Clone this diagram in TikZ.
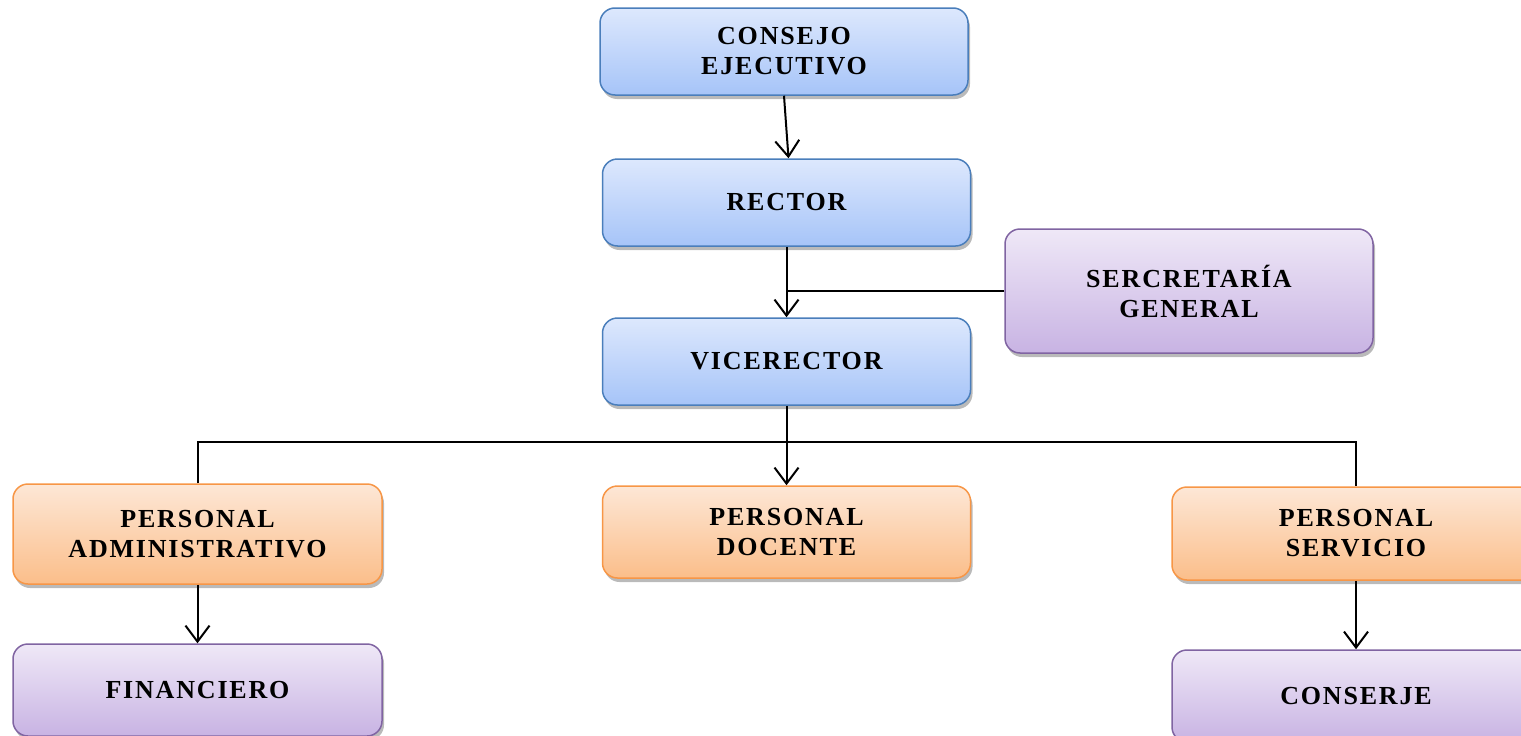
\documentclass[tikz,border=0pt]{standalone}
\usepackage{fontspec}
\setmainfont{Liberation Serif}
\usetikzlibrary{arrows.meta,shadows}
\definecolor{bluetop}{HTML}{DDE8FD}
\definecolor{bluebot}{HTML}{A6C4F8}
\definecolor{blueline}{HTML}{4A7EBB}
\definecolor{purtop}{HTML}{EFE8F7}
\definecolor{purbot}{HTML}{C8B3E3}
\definecolor{purline}{HTML}{8064A2}
\definecolor{ortop}{HTML}{FDE7D6}
\definecolor{orbot}{HTML}{FBBE8A}
\definecolor{orline}{HTML}{F79646}
\tikzset{
  box/.style={rectangle, rounded corners=15pt, line width=1.5pt, align=center,
    minimum width=368pt, minimum height=87pt, inner sep=0pt,
    font=\fontsize{26}{30}\selectfont\bfseries\addfontfeatures{LetterSpace=7},
    drop shadow={shadow xshift=2pt, shadow yshift=-4pt, opacity=0.45, fill=black!60},
    shading=axis, shading angle=0},
  bluebox/.style={box, draw=blueline, top color=bluetop, bottom color=bluebot},
  purbox/.style={box, draw=purline, top color=purtop, bottom color=purbot},
  orbox/.style={box, draw=orline, top color=ortop, bottom color=orbot},
  conn/.style={line width=2pt, -{Straight Barb[length=16pt,width=24pt,line width=2pt]}},
  plain/.style={line width=2pt}
}
\begin{document}
\begin{tikzpicture}[x=1pt,y=-1pt]
\useasboundingbox (0,0) rectangle (1521,736);
\node[bluebox] (cons) at (784,51.5) {CONSEJO\\EJECUTIVO};
\node[bluebox] (rect) at (786.5,202.5) {RECTOR};
\node[bluebox] (vice) at (786.5,361.5) {VICERECTOR};
\node[purbox, minimum height=124pt] (sec) at (1189,291) {SERCRETARÍA\\GENERAL};
\node[orbox, minimum width=369pt, minimum height=100pt] (adm) at (197.5,534) {PERSONAL\\ADMINISTRATIVO};
\node[orbox, minimum height=92pt] (doc) at (786.5,532) {PERSONAL\\DOCENTE};
\node[orbox, minimum height=93pt] (serv) at (1356,533.5) {PERSONAL\\SERVICIO};
\node[purbox, minimum width=369pt, minimum height=92pt] (fin) at (197.5,690) {FINANCIERO};
\node[purbox, minimum height=92pt] (conj) at (1356,696) {CONSERJE};
\coordinate (j) at (786.5,442);
\draw[conn] (cons.south) -- ([xshift=2pt]rect.north);
\draw[conn] (rect.south) -- (vice.north);
\draw[plain] (sec.west) -- (sec.west -| rect.south);
\draw[conn] (vice.south) -- (doc.north);
\draw[plain] (adm.north) |- (j) -| (serv.north);
\draw[conn] (adm.south) -- (fin.north);
\draw[conn] (serv.south) -- (conj.north);
\end{tikzpicture}
\end{document}
